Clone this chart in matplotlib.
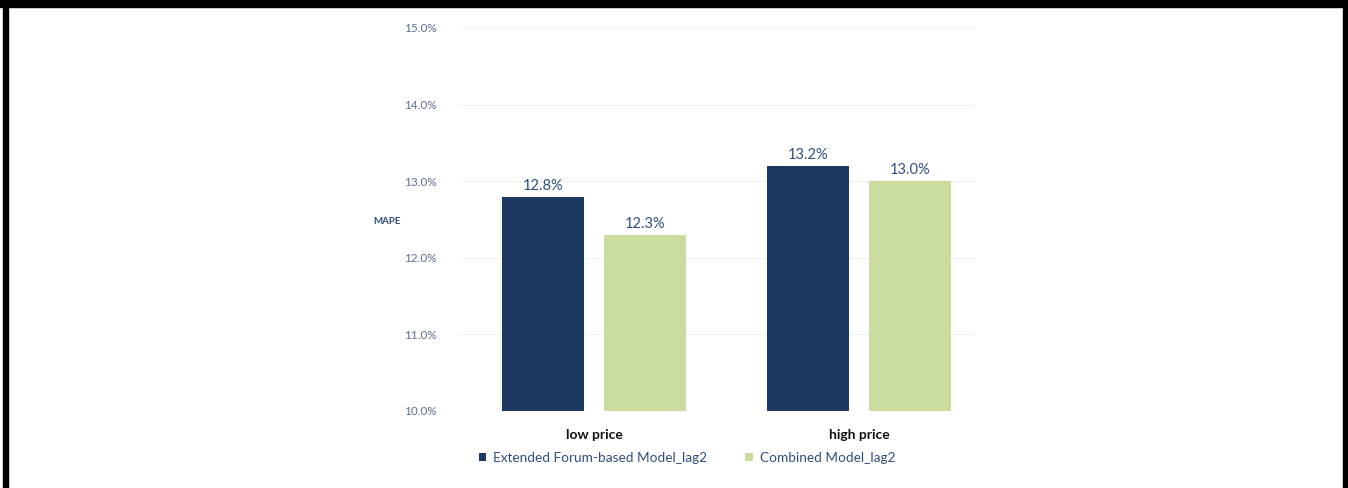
import numpy as np
import matplotlib.pyplot as plt
from matplotlib.patches import Rectangle

categories = ['low price', 'high price']
series_names = ['Extended Forum-based Model_lag2', 'Combined Model_lag2']
extended_mape = [12.8, 13.2]
combined_mape = [12.3, 13.0]
y_ticks = [10, 11, 12, 13, 14, 15]

dark_blue = '#1b3960'
light_green = '#cadd9f'
tick_color = '#5f6f8f'
label_color = '#2f4f7f'

plt.rcParams['font.family'] = ['Lato', 'DejaVu Sans']

fig = plt.figure(figsize=(13.48, 4.88), dpi=100)
ax = fig.add_axes([460 / 1348, 77 / 488, 515 / 1348, 383 / 488])

x = np.arange(len(categories))
width = 0.31
offset = 0.1925
bars1 = ax.bar(x - offset, extended_mape, width, color=dark_blue, label=series_names[0], zorder=3)
bars2 = ax.bar(x + offset, combined_mape, width, color=light_green, label=series_names[1], zorder=3)

for bars in (bars1, bars2):
    for b in bars:
        ax.text(b.get_x() + b.get_width() / 2, b.get_height() + 0.05, f'{b.get_height():.1f}%',
                ha='center', va='bottom', fontsize=10.5, color=label_color)

ax.set_ylim(10, 15)
ax.set_xlim(-0.506, 1.438)
ax.set_yticks(y_ticks)
ax.set_yticklabels([f'{v:.1f}%' for v in y_ticks], fontsize=8.5, color=tick_color)
ax.set_xticks(x)
ax.set_xticklabels(categories, fontsize=10, fontweight='bold', color='#111111')
ax.tick_params(axis='both', length=0)
ax.tick_params(axis='y', pad=17)
ax.tick_params(axis='x', pad=13)
ax.grid(axis='y', color='#f0f0f0', linewidth=0.8, zorder=0)
for s in ax.spines.values():
    s.set_visible(False)

fig.text(373 / 1348, 1 - 222 / 488, 'MAPE', fontsize=7, fontweight='bold', color=label_color,
         ha='left', va='center')

fig.legend(handles=[bars1, bars2], labels=series_names, loc='center',
           bbox_to_anchor=(687 / 1348, 1 - 458 / 488), ncol=2, frameon=False,
           fontsize=9.8, handlelength=0.55, handleheight=0.55, handletextpad=0.5,
           columnspacing=2.8, labelcolor=label_color)

# black frame on top, left and right edges
fig.patches.append(Rectangle((0, 1 - 7 / 488), 1, 7 / 488, transform=fig.transFigure,
                             color='black', zorder=10))
fig.patches.append(Rectangle((3 / 1348, 0), 5 / 1348, 1, transform=fig.transFigure,
                             color='black', zorder=10))
fig.patches.append(Rectangle((1 - 5 / 1348, 0), 5 / 1348, 1, transform=fig.transFigure,
                             color='black', zorder=10))

fig.savefig('out.png', dpi=100)
